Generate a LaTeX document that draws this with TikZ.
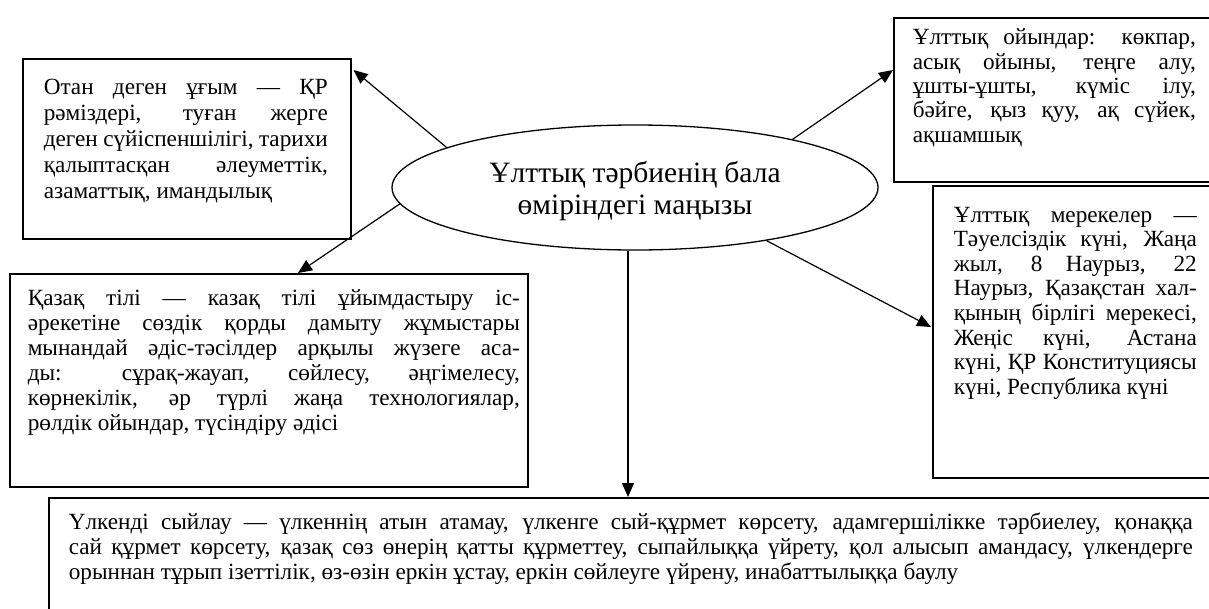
\documentclass[tikz,border=0pt]{standalone}
\usepackage{fontspec}
\setmainfont{Liberation Serif}
\usetikzlibrary{shapes.geometric,arrows.meta,calc}
\setlength\parindent{0pt}
\def\bskip{25}
\newcommand\jl[1]{\makebox[\linewidth][s]{\strut #1}\\}
\newcommand\bxt[6]{\begin{minipage}[t][#2][t]{#1}\vspace*{#4}\noindent\hspace*{#3}\begin{minipage}[t]{#5}\fontsize{23.2}{\bskip}\selectfont #6\end{minipage}\end{minipage}}
\begin{document}
\begin{tikzpicture}[x=1pt,y=-1pt,
  bx/.style={draw, line width=1.6pt, inner sep=0pt, anchor=north west},
  ell/.style={draw, ellipse, line width=1.3pt, minimum width=486pt, minimum height=125pt, inner sep=0pt},
  arr/.style={line width=1.2pt, -{Triangle[length=14pt,width=12pt]}}]
\useasboundingbox (0,0) rectangle (1209,608);
\fill[white] (0,0) rectangle (1209,608);
\clip (0,0) rectangle (1209,608);

\def\bskip{26.2}
\node[bx] (b1) at (22,58) {\bxt{328pt}{180pt}{21pt}{17pt}{284pt}{%
\jl{Отан деген ұғым — ҚР}
\jl{рәміздері, туған жерге}
\jl{деген сүйіспеншілігі, тарихи}
\jl{қалыптасқан әлеуметтік,}
\strut азаматтық, имандылық}};

\def\bskip{24.3}
\node[bx] (tr) at (893,17) {\bxt{347pt}{164pt}{19pt}{10pt}{283pt}{%
\jl{Ұлттық ойындар: көкпар,}
\jl{асық ойыны, теңге алу,}
\jl{ұшты-ұшты, күміс ілу,}
\jl{бәйге, қыз қуу, ақ сүйек,}
\strut ақшамшық}};

\def\bskip{24.6}
\node[bx] (mr) at (932,185) {\bxt{308pt}{292pt}{21pt}{19pt}{243pt}{%
\jl{Ұлттық мерекелер —}
\jl{Тәуелсіздік күні, Жаңа}
\jl{жыл, 8 Наурыз, 22}
\jl{Наурыз, Қазақстан хал-}
\jl{қының бірлігі мерекесі,}
\jl{Жеңіс күні, Астана}
\jl{күні, ҚР Конституциясы}
\strut күні, Республика күні}};

\def\bskip{25}
\node[bx] (kz) at (9,273) {\bxt{518pt}{213pt}{18pt}{14pt}{492pt}{%
\jl{Қазақ тілі — казақ тілі ұйымдастыру іс-}
\jl{әрекетіне сөздік қорды дамыту жұмыстары}
\jl{мынандай әдіс-тәсілдер арқылы жүзеге аса-}
\jl{ды: сұрақ-жауап, сөйлесу, әңгімелесу,}
\jl{көрнекілік, әр түрлі жаңа технологиялар,}
\strut рөлдік ойындар, түсіндіру әдісі}};

\node[bx] (bt) at (48,497) {\bxt{1192pt}{140pt}{20pt}{14pt}{1124pt}{%
\jl{Үлкенді сыйлау — үлкеннің атын атамау, үлкенге сый-құрмет көрсету, адамгершілікке тәрбиелеу, қонаққа}
\jl{сай құрмет көрсету, қазақ сөз өнерің қатты құрметтеу, сыпайлыққа үйрету, қол алысып амандасу, үлкендерге}
\strut орыннан тұрып ізеттілік, өз-өзін еркін ұстау, еркін сөйлеуге үйрену, инабаттылыққа баулу}};

\node[ell] (e) at (635,187.5) {\vbox{\kern10pt\hbox{\fontsize{29.5}{32}\selectfont\begin{tabular}{@{}c@{}}Ұлттық тәрбиенің бала\\өміріндегі маңызы\end{tabular}}}};

\draw[arr] (e.168) -- ($(b1.north east)+(2,12)$);
\draw[arr] (e.184) -- ($(kz.north west)+(289,0)$);
\draw[arr] (e.17) -- ($(tr.north west)+(0,53)$);
\draw[arr] (e.338) -- ($(mr.north west)+(-1,142)$);
\coordinate (v) at ($(e.south)+(-7,0)$);
\draw[arr] (v) -- (v |- bt.north);
\end{tikzpicture}
\end{document}
